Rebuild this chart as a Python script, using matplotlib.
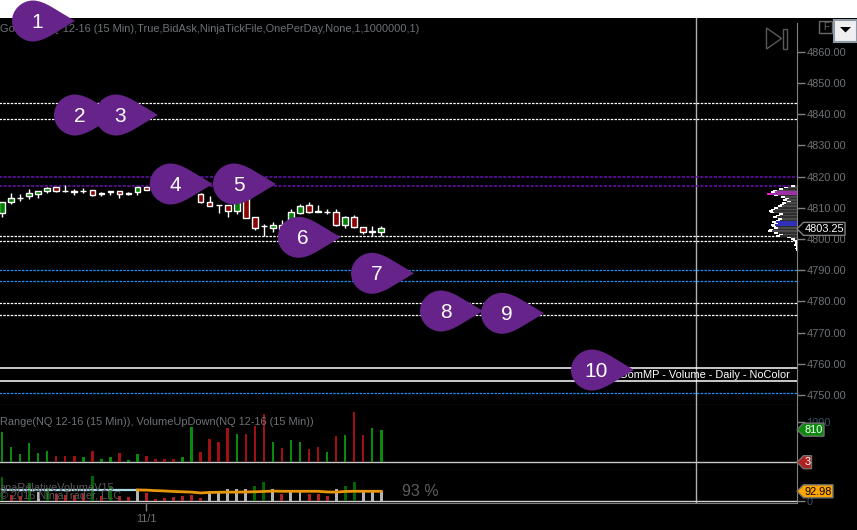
import matplotlib
matplotlib.use("Agg")
import matplotlib.pyplot as plt
from matplotlib.path import Path
from matplotlib.patches import PathPatch, Polygon, Rectangle

plt.rcParams["font.family"] = ["Liberation Sans", "DejaVu Sans"]

W, H = 857, 530

# candles, one row per 15 min bar
opens = [4808.45, 4811.76, 4813.04, 4813.69, 4814.33, 4815.29, 4816.57, 4815.50, 4815.29, 4815.50, 4815.61,
         4814.65, 4815.29, 4815.29, 4814.65, 4814.97, 4816.57, 4816.30, 4816.00, 4815.70, 4815.00, 4814.60,
         4814.43, 4811.76, 4810.91, 4810.80, 4809.09, 4813.04, 4806.95, 4804.17, 4803.64, 4804.38, 4805.03,
         4808.45, 4810.80, 4809.09, 4808.77, 4808.55, 4804.60, 4806.95, 4803.74, 4802.46, 4802.35]
highs = [4811.76, 4814.75, 4814.43, 4815.93, 4815.50, 4816.57, 4816.79, 4817.32, 4816.04, 4816.36, 4815.82,
         4815.08, 4815.29, 4815.50, 4815.08, 4816.79, 4816.79, 4816.60, 4816.40, 4816.00, 4815.80, 4815.90,
         4814.86, 4813.79, 4810.91, 4810.80, 4812.00, 4813.30, 4806.95, 4804.81, 4805.45, 4806.09, 4809.62,
         4811.23, 4811.87, 4810.91, 4809.62, 4809.62, 4807.38, 4807.70, 4803.96, 4804.17, 4804.17]
lows = [4807.16, 4811.33, 4812.30, 4812.83, 4813.26, 4814.86, 4815.08, 4815.08, 4814.22, 4814.65, 4813.79,
        4813.90, 4814.22, 4813.26, 4814.11, 4814.11, 4815.71, 4815.60, 4815.20, 4815.00, 4814.70, 4814.20,
        4811.65, 4810.69, 4808.23, 4807.16, 4808.02, 4806.84, 4802.89, 4800.96, 4802.25, 4802.89, 4805.03,
        4808.02, 4808.45, 4808.77, 4807.91, 4804.17, 4803.53, 4803.53, 4801.60, 4800.96, 4800.96]
closes = [4811.76, 4813.04, 4813.26, 4814.65, 4815.29, 4816.25, 4815.29, 4815.29, 4815.08, 4815.29, 4814.00,
          4814.33, 4814.97, 4814.33, 4814.43, 4816.57, 4815.82, 4815.90, 4815.60, 4815.30, 4815.50, 4815.40,
          4811.97, 4810.69, 4810.80, 4809.09, 4811.76, 4806.84, 4803.64, 4804.07, 4804.38, 4803.10, 4808.55,
          4810.58, 4808.66, 4808.77, 4808.66, 4804.60, 4806.95, 4803.74, 4802.35, 4802.14, 4803.42]

volumes = [750, 380, 205, 480, 230, 280, 155, 155, 155, 130, 280, 85, 130, 230, 60, 205, 155, 85, 85, 85, 130,
           875, 255, 580, 505, 855, 700, 700, 900, 1200, 505, 355, 555, 505, 330, 380, 255, 650, 680, 1250, 680,
           855, 810]
volume_dirs = "ggggggrrrgrggrggrrrrggrrrrgrrrgrggrrgrgrrgg"

rel_volumes = [226, 62, 46, 170, 87, 124, 68, 62, 62, 68, 232, 50, 133, 46, 40, 99, 78, 22, 31, 40, 53, 62, 31,
               93, 87, 112, 112, 112, 143, 180, 112, 68, 93, 93, 68, 68, 50, 112, 143, 180, 93, 93, 92.98]
rel_colors = "grrgwgrrrrgrgrrwrrrrrrrwwwwwggwrwwrrrwggwww"
rel_avg_old = [102] * 16
rel_avg_new = [105.4, 103.9, 99.2, 96.1, 91.5, 88.4, 85.3, 77.5, 82.2, 83.7, 85.3, 85.3, 86.8, 88.4, 91.5,
               94.6, 93, 93, 93, 93, 93, 86.8, 85.3, 91.5, 93, 93, 93, 92.98]

# horizontal levels
white_levels = [4843.5, 4838.6, 4800.9, 4799.3, 4779.4, 4775.6]
purple_levels = [4820.0, 4816.9]
blue_levels = [4790.0, 4786.4, 4750.5]
solid_levels = [4758.5, 4754.4]

# volume profile on the right, half point rows from 4817 down
profile_prices = [4817 - 0.5 * k for k in range(42)]
profile_vols = [5.7, 12.3, 18, 23.3, 25.7, 29.7, 22.3, 15.7, 11.3, 14, 10, 14.7, 16.7, 19, 22.3, 25.7, 28, 26.7,
                17.3, 20.7, 24, 19, 20.7, 24.7, 22.3, 25.7, 24.7, 22.3, 28, 29, 22.3, 17.3, 20.7, 10, 5.7, 3.3,
                1.3, 1.3, 2.3, 0.7, 1.3, 0.7]

price_ticks = list(range(4750, 4861, 10))
cursor_bar = 76.9
last_price = 4803.25

# callouts: number and where the tip points, in picture pixels
callout_tips = [(75, 21), (117, 115), (158, 115), (212.7, 184), (276, 184), (340.7, 237.3), (414, 273.3),
                (483, 311), (544, 313.3), (634, 370)]

BAR_X0, BAR_DX = 2.0, 9.03
PANE_R = 796.5
GRID = "#808080"
TXT = "#6e7276"
FS = 7.95
colors = {"g": "#0a8a0a", "r": "#a01010"}
rel_map = {"g": "#006400", "r": "#b22222", "w": "#b4b4b4"}


def pane(top, bottom, right=PANE_R):
    return fig.add_axes([0, 1 - bottom / H, right / W, (bottom - top) / H])


def style(ax):
    ax.set_facecolor("black")
    ax.set_xlim(-BAR_X0 / BAR_DX, (PANE_R - BAR_X0) / BAR_DX)
    for s in ["top", "left"]:
        ax.spines[s].set_visible(False)
    ax.spines["right"].set_color(GRID)
    ax.spines["bottom"].set_color(GRID)
    ax.yaxis.tick_right()
    ax.tick_params(axis="y", colors=GRID, labelcolor=TXT, labelsize=FS, length=6, width=1, pad=1)
    ax.tick_params(axis="x", colors=GRID, labelcolor=TXT, labelsize=FS, length=6, width=1, pad=2)
    ax.set_xticks([])
    ax.axvline(cursor_bar, color="#b0b0b0", lw=1, zorder=1)


fig = plt.figure(figsize=(W / 100, H / 100), dpi=100, facecolor="black")

# price pane
ax = pane(18, 404.5)
style(ax)
ax.set_ylim(4800 - (404.5 - 239) / 3.117, 4800 + (239 - 18) / 3.117)
ax.set_yticks(price_ticks)
ax.set_yticklabels([f"{p}.00" for p in price_ticks])
ax.spines["right"].set_bounds(ax.get_ylim()[0], 4869.3)
ax.hlines(white_levels, -1, 88, color="white", lw=0.9, linestyles=(0, (2, 1)), zorder=2)
ax.hlines(purple_levels, -1, 88, color="#6a10b8", lw=1.1, linestyles=(0, (2, 1)), zorder=2)
ax.hlines(blue_levels, -1, 88, color="#1e90ff", lw=0.9, linestyles=(0, (2, 1)), zorder=2)
ax.hlines(solid_levels, -1, 88, color="white", lw=1.1, zorder=2)
ax.text(790 / BAR_DX - BAR_X0 / BAR_DX, 4756.4, "GomMP - Volume - Daily - NoColor", color="white", fontsize=FS,
        ha="right", va="center", zorder=3)
ax.text(0, 0.9705, "GomCD(NQ 12-16 (15 Min),True,BidAsk,NinjaTickFile,OnePerDay,None,1,1000000,1)",
        transform=ax.transAxes, color=TXT, fontsize=FS, va="center")

bars = range(len(opens))
ax.vlines(bars, lows, highs, color="white", lw=1, zorder=4)
for i in bars:
    o, c = opens[i], closes[i]
    body = abs(c - o)
    fc = "white"
    if body > 0.5:
        fc = "#008000" if c > o else "#8b0000"
    ax.bar(i, body, bottom=min(o, c), width=0.62, color=fc, edgecolor="white", lw=1, zorder=5)

# volume profile, shares the price scale
prof = fig.add_axes([736 / W, 1 - 404.5 / H, (PANE_R - 736) / W, (404.5 - 18) / H], sharey=ax)
prof.patch.set_visible(False)
prof.axis("off")
prof.set_xlim(60.5, 0)
profile_colors = ["#4a4a4a" if k % 2 else "#2e2e2e" for k in range(len(profile_vols))]
for k in (4, 5):
    profile_colors[k] = "#a030a8"
for k in (23, 24, 25):
    profile_colors[k] = "#3030b8"
prof.barh(profile_prices, profile_vols, height=0.5, color=profile_colors, zorder=2)
tips = [min(4, v) for v in profile_vols]
tip_colors = ["white"] * len(tips)
tip_colors[5] = "#ff10e0"
prof.barh(profile_prices, tips, left=[v - t for v, t in zip(profile_vols, tips)], height=0.5, color=tip_colors, zorder=3)

# volume pane
vol = pane(404.5, 470.3)
style(vol)
vol.set_ylim(-198, 1434)
vol.set_yticks([1000])
vol.tick_params(axis="y", labelcolor="#3c5064")
vol.bar(bars, volumes, width=0.28, color=[colors[c] for c in volume_dirs], zorder=3)
vol.axhline(0, color="#c8c8c8", lw=1, zorder=2)
vol.text(0, 0.734, "Range(NQ 12-16 (15 Min)), VolumeUpDown(NQ 12-16 (15 Min))", transform=vol.transAxes,
         color=TXT, fontsize=FS, va="center", zorder=4)

# relative volume pane
rel = pane(470.3, 503.3)
style(rel)
rel.set_ylim(-18.6, 288)
rel.set_yticks([0])
rel.tick_params(axis="y", labelcolor="#3c5064")
rel.set_xticks([16])
rel.set_xticklabels(["11/1"])
rel.bar(bars, rel_volumes, width=0.33, color=[rel_map[c] for c in rel_colors], zorder=3)
rel.axhline(0, color="#d0d0d0", lw=1, zorder=2)
rel.plot(range(16), rel_avg_old, color="#add8e6", lw=1.6, zorder=4)
rel.plot(range(15, 43), rel_avg_new, color="#e8960c", lw=2, zorder=4)
rel.text(0, 0.47, "anaRelativeVolumeV15", transform=rel.transAxes, color="#5a5a5a", fontsize=FS, va="center", zorder=5)
rel.text(0, 0.22, "\u00a9 2016 NinjaTrader, LLC", transform=rel.transAxes, color="#5a5a5a", fontsize=FS, va="center", zorder=5)
rel.text(402 / PANE_R, 0.36, "93 %", transform=rel.transAxes, color="#5c5c5c", fontsize=11.5, va="center", zorder=5)

# overlay in picture pixels for the header, buttons, price tags and callouts
over = fig.add_axes([0, 0, 1, 1], zorder=10)
over.set_xlim(0, W)
over.set_ylim(H, 0)
over.axis("off")
over.add_patch(Rectangle((0, 0), W, 18, fc="white", ec="none"))
over.add_patch(Rectangle((819.5, 20.5), 13, 12, fc="black", ec="#6a6a6a", lw=1))
over.text(826, 26.5, "F", color="#6a6a6a", fontsize=7, ha="center", va="center")
over.add_patch(Rectangle((834, 19.5), 23, 22.5, fc="#efefef", ec="#8e9aa6", lw=1.5))
over.add_patch(Polygon([(840, 27), (851, 27), (845.5, 32.5)], fc="black", ec="none"))
over.add_patch(Polygon([(766.5, 28), (781.5, 38.5), (766.5, 49)], fc="none", ec="#5a5a5a", lw=1))
over.add_patch(Rectangle((783.5, 28.5), 3.5, 20, fc="none", ec="#5a5a5a", lw=1))


def price_tag(pane_ax, value, label, right, fc, ec, tc):
    y = H - pane_ax.transData.transform((0, value))[1]
    pts = [(797, y), (803.5, y - 6.5), (right, y - 6.5), (right, y + 6.5), (803.5, y + 6.5)]
    over.add_patch(Polygon(pts, fc=fc, ec=ec, lw=1))
    over.text((803.5 + right) / 2, y + 0.3, label, color=tc, fontsize=FS, ha="center", va="center")


price_tag(ax, last_price, "4803.25", 845, "black", "#808080", "white")
price_tag(vol, volumes[-1], "810", 824, "#0a8a0a", "#707070", "white")
price_tag(vol, 3, "3", 811.5, "#b02020", "#707070", "white")
price_tag(rel, rel_volumes[-1], "92.98", 833, "#ffa500", "#707070", "black")

for n, (tx, ty) in enumerate(callout_tips, start=1):
    top, left = ty - 20.5, tx - 63
    peak = tx - 42
    verts = [(tx, ty), (tx - 16, ty - 9), (peak + 12, top), (peak, top),
             (peak - 11.5, top), (left, ty - 11), (left, ty),
             (left, ty + 11), (peak - 11.5, ty + 20.5), (peak, ty + 20.5),
             (peak + 12, ty + 20.5), (tx - 16, ty + 9), (tx, ty)]
    codes = [Path.MOVETO] + [Path.CURVE4] * 12
    over.add_patch(PathPatch(Path(verts, codes), fc="#66248a", ec="none", clip_on=False))
    over.text(tx - 37.5, ty + 1.5, str(n), color="white", fontsize=15, ha="center", va="center")

fig.savefig("out.png", dpi=100, facecolor="black")
